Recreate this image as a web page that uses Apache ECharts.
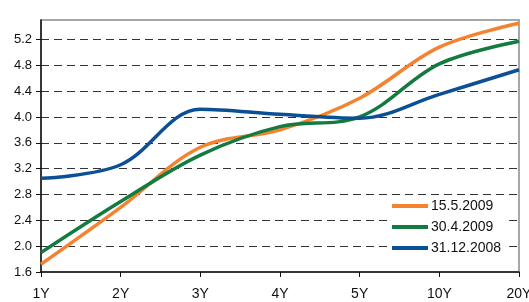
<!DOCTYPE html>
<html>
<head>
<meta charset="utf-8">
<script src="https://cdn.jsdelivr.net/npm/echarts@6/dist/echarts.min.js"></script>
<style>
  html, body { margin: 0; padding: 0; background: #fff; }
  #chart { width: 529px; height: 302px; }
</style>
</head>
<body>
<div id="chart"></div>
<script>
// maturities on the x axis
var maturities = ['1Y', '2Y', '3Y', '4Y', '5Y', '10Y', '20Y'];

// yield curves
var may2009 = [1.72, 2.60, 3.53, 3.80, 4.29, 5.08, 5.45];
var apr2009 = [1.90, 2.69, 3.41, 3.85, 4.00, 4.82, 5.17];
var dec2008 = [3.05, 3.26, 4.12, 4.04, 3.98, 4.35, 4.73];

var seriesNames = ['15.5.2009', '30.4.2009', '31.12.2008'];
var colors = ['#F5822F', '#137A40', '#0B4F94'];

var chart = echarts.init(document.getElementById('chart'));

function lineSeries(name, data, color) {
  return {
    name: name,
    type: 'line',
    data: data,
    smooth: 0.35,
    symbol: 'none',
    lineStyle: { width: 3.5, color: color },
    itemStyle: { color: color }
  };
}

var option = {
  backgroundColor: '#ffffff',
  animation: false,
  grid: {
    left: 41, right: 10, top: 20, bottom: 30,
    outerBoundsMode: 'none',
    containLabel: false,
    show: true,
    borderColor: '#8a8a8a',
    borderWidth: 1.5
  },
  legend: {
    orient: 'vertical',
    left: 388,
    top: 196,
    icon: 'rect',
    itemWidth: 36,
    itemHeight: 4,
    itemGap: 7,
    padding: [3, 8, 3, 4],
    backgroundColor: '#ffffff',
    data: seriesNames,
    textStyle: {
      fontFamily: 'Liberation Sans, Arial, sans-serif',
      fontSize: 14,
      color: '#111',
      padding: [0, 0, 0, -2]
    }
  },
  xAxis: {
    type: 'category',
    data: maturities,
    boundaryGap: false,
    axisLine: { lineStyle: { color: '#111', width: 1.5 } },
    axisTick: { inside: false, length: 5, lineStyle: { color: '#111' } },
    axisLabel: {
      margin: 15,
      fontFamily: 'Liberation Sans, Arial, sans-serif',
      fontSize: 14,
      color: '#111'
    },
    splitLine: { show: false }
  },
  yAxis: {
    type: 'value',
    min: 1.6,
    max: 5.5,
    interval: 0.4,
    axisLine: { show: true, lineStyle: { color: '#111', width: 1.5 } },
    axisTick: { show: true, length: 5, lineStyle: { color: '#111' } },
    axisLabel: {
      margin: 9,
      showMaxLabel: false,
      fontFamily: 'Liberation Sans, Arial, sans-serif',
      fontSize: 13,
      color: '#111',
      formatter: function (v) { return v.toFixed(1); }
    },
    splitLine: {
      show: true,
      showMinLine: false,
      showMaxLine: false,
      lineStyle: { color: '#333', type: [8, 5], width: 1 }
    }
  },
  series: [
    lineSeries(seriesNames[0], may2009, colors[0]),
    lineSeries(seriesNames[1], apr2009, colors[1]),
    lineSeries(seriesNames[2], dec2008, colors[2])
  ]
};

chart.setOption(option);
</script>
</body>
</html>
